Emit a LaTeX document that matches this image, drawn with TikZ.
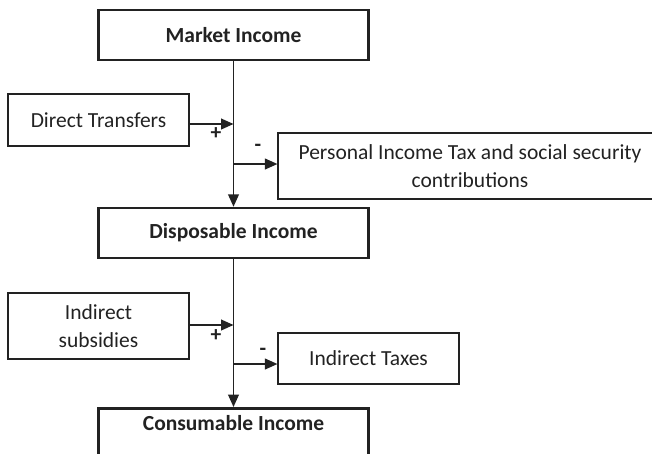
\documentclass[tikz,border=0pt]{standalone}
\usepackage{fontspec}
\setmainfont{Carlito}
\usetikzlibrary{arrows.meta,positioning}
\definecolor{ink}{RGB}{34,34,34}

\begin{document}
\begin{tikzpicture}[
  x=0.6pt,y=-0.6pt,
  every node/.style={font=\fontsize{12.9pt}{16.4pt}\selectfont},
  mainbox/.style={draw=ink,line width=1.5pt,minimum width=162pt,minimum height=30pt,
    font=\fontsize{12.9pt}{16.4pt}\selectfont\bfseries,text=ink,align=center},
  sidebox/.style={draw=ink,line width=0.7pt,text=ink,align=center},
  arr/.style={-{Triangle[length=7.5pt,width=6.5pt]},line width=0.9pt,draw=ink},
  sign/.style={font=\fontsize{12.9pt}{16.4pt}\selectfont\bfseries,text=ink,inner sep=0pt}
]
\useasboundingbox (0,0) rectangle (652,453);
\clip (0,0) rectangle (652,453);
% income stages
\node[mainbox] (market) at (233.5,35) {Market Income};
\node[mainbox] (disp) at (233.5,233) {Disposable Income};
\node[mainbox,anchor=north,text height=8.5pt,inner ysep=4.8pt,text depth=40pt] (cons) at (233.5,407) {Consumable Income};
% flows in and out
\node[sidebox,minimum width=108.6pt,minimum height=31.2pt] (transfers) at (98.5,120) {Direct Transfers};
\node[sidebox,minimum width=230.4pt,minimum height=39.6pt] (pit) at (470,166) {Personal Income Tax and social security\\contributions};
\node[sidebox,minimum width=108.6pt,minimum height=39.6pt] (subsidies) at (98.5,326) {Indirect\\subsidies};
\node[sidebox,minimum width=108.6pt,minimum height=30.6pt] (taxes) at (368.5,358.5) {Indirect Taxes};
\coordinate (j1) at (233.5,124);
\coordinate (j2) at (233.5,164);
\coordinate (j3) at (233.5,325);
\coordinate (j4) at (233.5,364);
\draw[arr] (market) -- (disp);
\draw[arr] (disp) -- (cons);
\draw[arr] (transfers.east |- j1) -- (j1);
\draw[arr] (j2) -- (pit.west |- j2);
\draw[arr] (subsidies.east |- j3) -- (j3);
\draw[arr] (j4) -- (taxes.west |- j4);
\node[sign] (plus1) at (216,134) {+};
\node[sign] (minus1) at (258,148) {-};
\node[sign] (plus2) at (216,336) {+};
\node[sign] (minus2) at (263,352) {-};
\end{tikzpicture}
\end{document}
